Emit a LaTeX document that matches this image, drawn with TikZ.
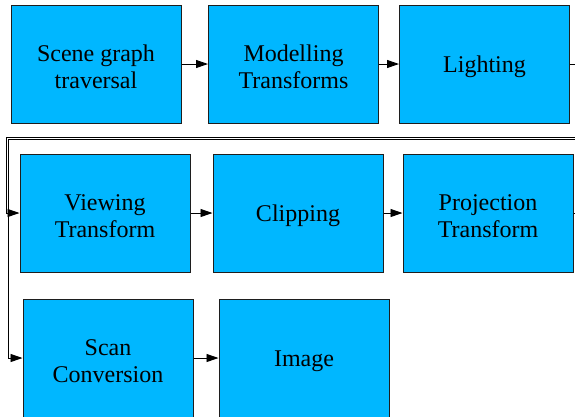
\documentclass[tikz,border=0pt]{standalone}
\usepackage{fontspec}
\setmainfont{Liberation Serif}
\usetikzlibrary{arrows.meta}
\definecolor{stagefill}{RGB}{0,183,255}
\definecolor{stageline}{RGB}{30,30,30}
\tikzset{
  stagebox/.style={draw=stageline, line width=1pt, fill=stagefill,
    minimum width=170pt, minimum height=118pt, inner sep=0pt},
  stagetext/.style={align=center, yshift=-3pt, inner sep=0pt,
    font=\fontsize{24}{27}\selectfont},
  flow/.style={draw=black, line width=0.9pt,
    -{Triangle[length=12pt,width=8pt]}}
}
\begin{document}
\begin{tikzpicture}[x=1pt, y=-1pt]
  \useasboundingbox (0,0) rectangle (575,416);
  \clip (0,0) rectangle (575,416);
  \fill[white] (0,0) rectangle (575,416);

  % first row
  \node[stagebox, label={[stagetext]center:Scene graph\\traversal}] (scene) at (96,64) {};
  \node[stagebox, label={[stagetext]center:Modelling\\Transforms}] (model) at (293.5,64) {};
  \node[stagebox, label={[stagetext]center:Lighting}] (light) at (484.5,64) {};

  % second row
  \node[stagebox, label={[stagetext]center:Viewing\\Transform}] (view) at (105,213) {};
  \node[stagebox, label={[stagetext]center:Clipping}] (clip) at (298,213) {};
  \node[stagebox, label={[stagetext]center:Projection\\Transform}] (proj) at (488,213) {};

  % third row
  \node[stagebox, label={[stagetext]center:Scan\\Conversion}] (scan) at (108,358) {};
  \node[stagebox, label={[stagetext]center:Image}] (image) at (304,358) {};

  % wrap-around turning points
  \coordinate (turnA) at (6,137.5);
  \coordinate (turnB) at (8,139);

  \draw[flow] (scene.east) -- (model.west);
  \draw[flow] (model.east) -- (light.west);
  \draw[flow] (light.east) -- ++(20,0) |- (turnA) |- (view.west);
  \draw[flow] (view.east) -- (clip.west);
  \draw[flow] (clip.east) -- (proj.west);
  \draw[flow] (proj.east) -- ++(20,0) |- (turnB) |- (scan.west);
  \draw[flow] (scan.east) -- (image.west);
\end{tikzpicture}
\end{document}
